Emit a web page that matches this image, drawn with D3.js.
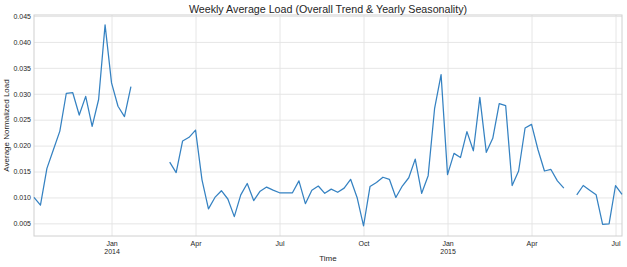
<!DOCTYPE html>
<html>
<head>
<meta charset="utf-8">
<script src="https://cdn.jsdelivr.net/npm/d3@7"></script>
<style>
  body { margin: 0; background: #fff; }
  svg text { font-family: Arial, "Liberation Sans", sans-serif; fill: #262626; }
  .grid line { stroke: #e3e3e3; stroke-width: 0.9; }
  .axis path, .axis line { display: none; }
  .frame { fill: none; stroke: #d0d0d0; stroke-width: 1; }
  .curve { fill: none; stroke: #3582c2; stroke-width: 1.25; stroke-linejoin: round; }
</style>
</head>
<body>
<script>
/* global d3 */

let TITLE = 'Weekly Average Load (Overall Trend & Yearly Seasonality)'
let X_LABEL = 'Time'
let Y_LABEL = 'Average Normalized Load'

// weekly periods (W-SUN), first and last week-ending dates
let FIRST_WEEK = '2013-10-13'
let LAST_WEEK = '2015-07-12'

let loadValues = [
  0.0100, 0.0085, 0.0156, 0.0192, 0.0228, 0.0301, 0.0302, 0.0259, 0.0295, 0.0237,
  0.0289, 0.0433, 0.0321, 0.0276, 0.0256, 0.0314, null, null, null, null,
  null, 0.0168, 0.0148, 0.0209, 0.0216, 0.0230, 0.0134, 0.0078, 0.0100, 0.0113,
  0.0097, 0.0063, 0.0105, 0.0127, 0.0094, 0.0112, 0.0120, 0.0114, 0.0109, 0.0109,
  0.0109, 0.0132, 0.0088, 0.0114, 0.0122, 0.0108, 0.0116, 0.0110, 0.0118, 0.0135,
  0.0100, 0.0045, 0.0121, 0.0129, 0.0139, 0.0135, 0.0100, 0.0122, 0.0138, 0.0174,
  0.0108, 0.0142, 0.0272, 0.0337, 0.0144, 0.0185, 0.0177, 0.0227, 0.0190, 0.0293,
  0.0187, 0.0214, 0.0281, 0.0277, 0.0123, 0.0151, 0.0234, 0.0241, 0.0192, 0.0151,
  0.0154, 0.0132, 0.0118, null, 0.0105, 0.0123, 0.0114, 0.0105, 0.0048, 0.0049,
  0.0123, 0.0106
]

// month ticks sit on the week that contains the 1st of the month
let xTickWeeks = ['2014-01-05', '2014-04-06', '2014-07-06', '2014-10-05',
  '2015-01-04', '2015-04-05', '2015-07-05']
let xTickMonths = ['Jan', 'Apr', 'Jul', 'Oct', 'Jan', 'Apr', 'Jul']
let xTickYears = ['2014', '', '', '', '2015', '', '']

let yTicks = [0.005, 0.010, 0.015, 0.020, 0.025, 0.030, 0.035, 0.040, 0.045]
let yDomain = [0.00256, 0.0452]

function main () {
  let parse = d3.timeParse('%Y-%m-%d')
  let weeks = d3.timeSunday.range(parse(FIRST_WEEK), d3.timeDay.offset(parse(LAST_WEEK), 1))
  let points = weeks.map((w, i) => ({week: w, value: loadValues[i]}))

  let dims = {width: 627, height: 267, left: 34, top: 15, right: 5, bottom: 31}
  let chart = {
    width: dims.width - dims.left - dims.right,
    height: dims.height - dims.top - dims.bottom,
  }

  let x = d3.scaleTime()
    .domain([parse(FIRST_WEEK), parse(LAST_WEEK)])
    .range([0, chart.width])
  let y = d3.scaleLinear()
    .domain(yDomain)
    .range([chart.height, 0])

  let svg = d3.select('body').append('svg')
    .attr('width', dims.width)
    .attr('height', dims.height)

  let g = svg.append('g')
    .attr('transform', `translate(${dims.left}, ${dims.top})`)

  // gridlines
  g.append('g')
    .attr('class', 'grid')
    .call(d3.axisLeft(y).tickValues(yTicks).tickSize(-chart.width).tickFormat(''))
    .call(s => s.select('.domain').remove())
  g.append('g')
    .attr('class', 'grid')
    .attr('transform', `translate(0, ${chart.height})`)
    .call(d3.axisBottom(x).tickValues(xTickWeeks.map(parse)).tickSize(chart.height).tickFormat(''))
    .call(s => s.select('.domain').remove())
    .selectAll('line').attr('y2', -chart.height)

  g.append('rect')
    .attr('class', 'frame')
    .attr('width', chart.width)
    .attr('height', chart.height)

  // y axis labels
  let yAxis = g.append('g')
    .attr('class', 'axis')
    .call(d3.axisLeft(y).tickValues(yTicks).tickSize(0).tickPadding(3)
      .tickFormat(d3.format('.3f')))
  yAxis.selectAll('text').style('font-size', '7px')

  // x axis labels (month + year on a second line)
  let xAxis = g.append('g')
    .attr('class', 'axis')
    .attr('transform', `translate(0, ${chart.height})`)
    .call(d3.axisBottom(x).tickValues(xTickWeeks.map(parse)).tickSize(0).tickPadding(5)
      .tickFormat((d, i) => xTickMonths[i]))
  xAxis.selectAll('.tick text').style('font-size', '7px')
  xAxis.selectAll('.tick').append('text')
    .attr('y', 13)
    .attr('dy', '0.71em')
    .style('font-size', '7px')
    .text((d, i) => xTickYears[i])

  // series, with gaps where weeks are missing
  let line = d3.line()
    .defined(d => d.value !== null)
    .x(d => x(d.week))
    .y(d => y(d.value))
  g.append('path')
    .datum(points)
    .attr('class', 'curve')
    .attr('d', line)

  svg.append('text')
    .attr('x', dims.left + chart.width / 2)
    .attr('y', 13)
    .attr('text-anchor', 'middle')
    .style('font-size', '10.7px')
    .text(TITLE)

  svg.append('text')
    .attr('x', dims.left + chart.width / 2)
    .attr('y', 261)
    .attr('text-anchor', 'middle')
    .style('font-size', '8px')
    .text(X_LABEL)

  svg.append('text')
    .attr('transform', `translate(9, ${dims.top + chart.height / 2}) rotate(-90)`)
    .attr('text-anchor', 'middle')
    .style('font-size', '8px')
    .text(Y_LABEL)
}

main()
</script>
</body>
</html>
